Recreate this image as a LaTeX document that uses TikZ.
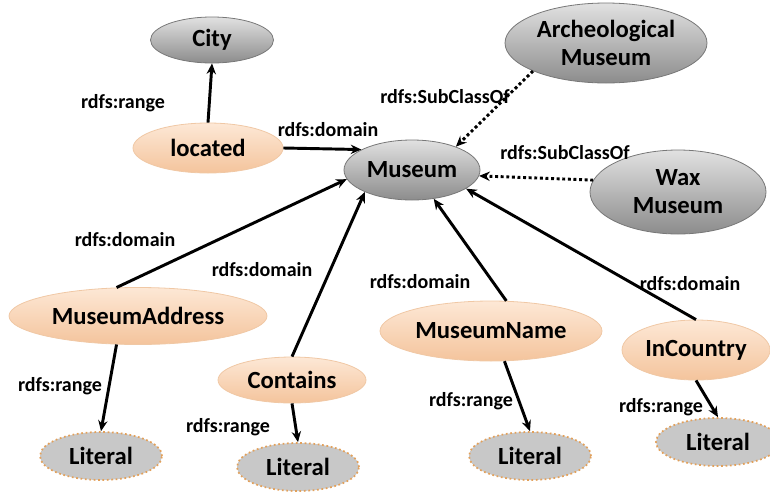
\documentclass[tikz,border=0pt]{standalone}
\usepackage{fontspec}
\setmainfont{Carlito}
\usetikzlibrary{shapes.geometric,arrows.meta}

\newlength{\du}
\setlength{\du}{0.75pt}

\definecolor{classtop}{RGB}{225,225,225}
\definecolor{classbot}{RGB}{140,140,140}
\definecolor{classline}{RGB}{120,120,120}
\definecolor{proptop}{RGB}{253,232,214}
\definecolor{propbot}{RGB}{244,196,156}
\definecolor{propline}{RGB}{240,200,165}
\definecolor{litfill}{RGB}{200,200,200}
\definecolor{litline}{RGB}{226,160,90}

\tikzset{
  classnode/.style={ellipse, draw=classline, line width=0.6pt, top color=classtop, bottom color=classbot,
    inner sep=0pt, align=center, font=\bfseries\fontsize{18.5}{21}\selectfont},
  propnode/.style={ellipse, draw=propline, line width=0.6pt, top color=proptop, bottom color=propbot,
    inner sep=0pt, font=\bfseries\fontsize{18.5}{21}\selectfont},
  litnode/.style={ellipse, fill=litfill, draw=litline, line width=1.3pt, dotted,
    inner sep=0pt, font=\bfseries\fontsize{18.5}{21}\selectfont},
  rdfarrow/.style={-{Stealth[length=8pt,width=7pt]}, line width=2.2pt},
  subarrow/.style={-{Stealth[length=8pt,width=7pt]}, line width=2.2pt, dotted},
  rdflabel/.style={font=\bfseries\fontsize{15}{17}\selectfont}
}

\begin{document}
\begin{tikzpicture}
\pgftransformxscale{1.000000}
\pgftransformyscale{-1.000000}
\useasboundingbox (0\du,0\du) rectangle (770\du,493\du);
% classes
\node[classnode, minimum width=123\du, minimum height=46\du] (City) at (212\du,40\du){City};
\node[classnode, minimum width=136\du, minimum height=60\du] (Museum) at (412\du,170\du){Museum};
\node[classnode, minimum width=202\du, minimum height=80\du] (ArchMuseum) at (606\du,43\du){Archeological\\Museum};
\node[classnode, minimum width=176\du, minimum height=84\du] (WaxMuseum) at (678\du,192\du){Wax\\Museum};
% properties
\node[propnode, minimum width=150\du, minimum height=50\du] (located) at (208\du,148\du){located};
\node[propnode, minimum width=258\du, minimum height=57\du] (MuseumAddress) at (138\du,316\du){MuseumAddress};
\node[propnode, minimum width=148\du, minimum height=46\du] (Contains) at (292\du,380\du){Contains};
\node[propnode, minimum width=222\du, minimum height=60\du] (MuseumName) at (491\du,331\du){MuseumName};
\node[propnode, minimum width=148\du, minimum height=60\du] (InCountry) at (696\du,350\du){InCountry};
% literals
\node[litnode, minimum width=122\du, minimum height=48\du] (LitAddress) at (101\du,456\du){Literal};
\node[litnode, minimum width=122\du, minimum height=48\du] (LitContains) at (298\du,467\du){Literal};
\node[litnode, minimum width=122\du, minimum height=48\du] (LitName) at (530\du,456\du){Literal};
\node[litnode, minimum width=124\du, minimum height=48\du] (LitCountry) at (718\du,442\du){Literal};
% connectors
\draw[rdfarrow] (located.north) -- (City.south);
\draw[rdfarrow] (located.east) -- (Museum.158);
\draw[subarrow] (ArchMuseum.201) -- (Museum.28);
\draw[subarrow] (WaxMuseum.172) -- (Museum.-5);
\draw[rdfarrow] (MuseumAddress.127) -- (Museum.188);
\draw[rdfarrow] (Contains.north) -- (Museum.205);
\draw[rdfarrow] (MuseumName.63) -- (Museum.307);
\draw[rdfarrow] (InCountry.north) -- (Museum.341);
\draw[rdfarrow] (MuseumAddress.233) -- (LitAddress.north);
\draw[rdfarrow] (Contains.south) -- (LitContains.north);
\draw[rdfarrow] (MuseumName.294) -- (LitName.north);
\draw[rdfarrow] (InCountry.south) -- (LitCountry.north);
% edge labels
\node[rdflabel] (lblCity) at (123\du,103\du){rdfs:range};
\node[rdflabel] (lblLocated) at (328\du,130\du){rdfs:domain};
\node[rdflabel] (lblArch) at (445\du,97\du){rdfs:SubClassOf};
\node[rdflabel] (lblWax) at (565\du,153\du){rdfs:SubClassOf};
\node[rdflabel] (lblAddress) at (125\du,240\du){rdfs:domain};
\node[rdflabel] (lblContains) at (262\du,270\du){rdfs:domain};
\node[rdflabel] (lblName) at (420\du,282\du){rdfs:domain};
\node[rdflabel] (lblCountry) at (690\du,284\du){rdfs:domain};
\node[rdflabel] (lblAddrRange) at (60\du,386\du){rdfs:range};
\node[rdflabel] (lblContRange) at (228\du,427\du){rdfs:range};
\node[rdflabel] (lblNameRange) at (471\du,401\du){rdfs:range};
\node[rdflabel] (lblCtryRange) at (661\du,407\du){rdfs:range};
\end{tikzpicture}
\end{document}
